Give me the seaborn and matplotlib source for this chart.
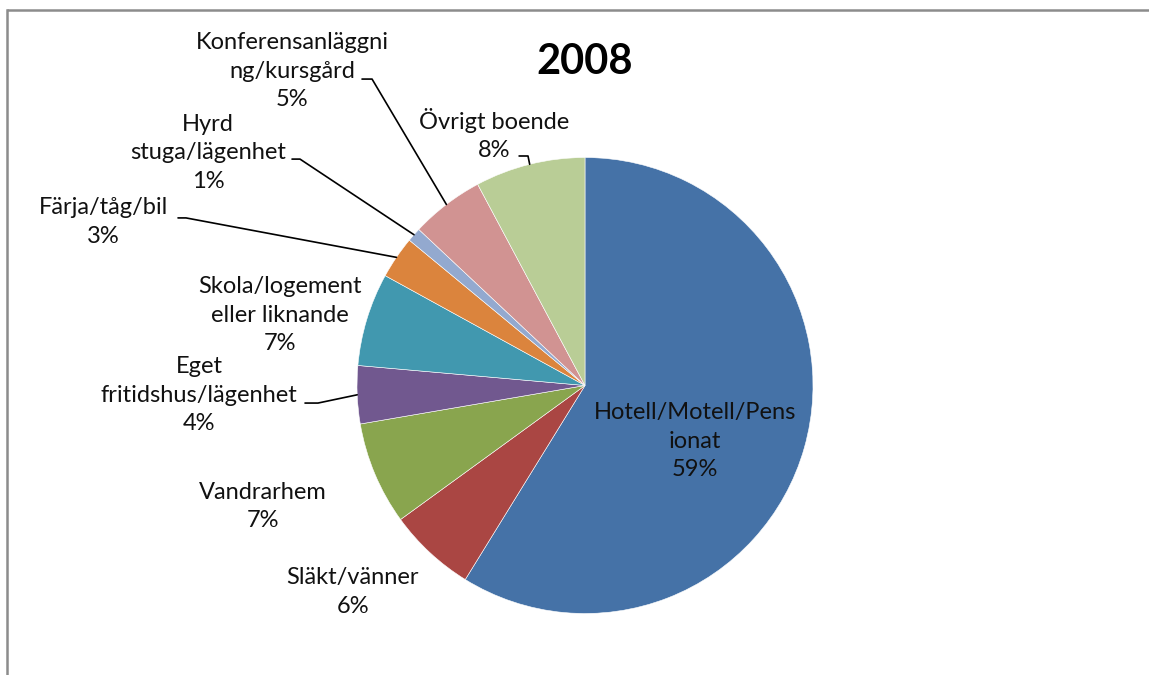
import numpy as np
import matplotlib
matplotlib.use("Agg")
import matplotlib.pyplot as plt
from matplotlib.lines import Line2D
import seaborn as sns

# Data (andel i procent, 2008)
kategorier = ["Hotell/Motell/Pens\nionat", "Släkt/vänner", "Vandrarhem",
              "Eget\nfritidshus/lägenhet", "Skola/logement\neller liknande",
              "Färja/tåg/bil", "Hyrd\nstuga/lägenhet",
              "Konferensanläggni\nng/kursgård", "Övrigt boende"]
andel = [58.8, 6.2, 7.3, 4.1, 6.6, 3.0, 1.0, 5.2, 7.8]
farger = ["#4572A7", "#AA4643", "#89A54E", "#71588F", "#4198AF",
          "#DB843D", "#93A9CF", "#D19392", "#B9CD96"]
titel = "2008"

sns.set_theme(style="white")
plt.rcParams['font.family'] = ['Lato', 'DejaVu Sans']

fig = plt.figure(figsize=(11.49, 6.75), dpi=100)
ax = fig.add_axes([0, 0, 1, 1])

wedges, _ = ax.pie(andel, colors=farger, startangle=90, counterclock=False,
                   radius=1, center=(0, 0),
                   wedgeprops=dict(edgecolor="white", linewidth=0.4))

# pie centre at (585, 385.5) px, radius 228 px
ax.set_xlim(-585 / 228, (1149 - 585) / 228)
ax.set_ylim(-(675 - 385.5) / 228, 385.5 / 228)
ax.set_aspect("auto")
ax.axis("off")

# label positions (pie units) and leader elbows
lbl_pos = [(0.482, -0.244), (-1.018, -0.906), (-1.412, -0.529),
           (-1.693, -0.042), (-1.338, 0.309), (-2.114, 0.717),
           (-1.654, 1.020), (-1.283, 1.379), (-0.399, 1.099)]
elbows = {3: [(-1.228, -0.077), (-1.171, -0.077)],
          5: [(-1.785, 0.735), (-1.750, 0.735)],
          6: [(-1.285, 0.993), (-1.250, 0.993)],
          7: [(-0.978, 1.344), (-0.934, 1.344)],
          8: [(-0.289, 1.0066), (-0.250, 1.0066)]}

for i, (w, lab, v) in enumerate(zip(wedges, kategorier, andel)):
    x, y = lbl_pos[i]
    ax.text(x, y, f"{lab}\n{round(v)}%", ha="center", va="center",
            multialignment="center", fontsize=17, color="#111111",
            linespacing=1.42)
    if i in elbows:
        mid = np.deg2rad((w.theta1 + w.theta2) / 2)
        tip = (np.cos(mid), np.sin(mid))
        pts = elbows[i] + [tip]
        ax.plot([p[0] for p in pts], [p[1] for p in pts], color="black", lw=1.2)

fig.text(585 / 1149, 1 - 62 / 675, titel, ha="center", va="center",
         fontsize=30, fontweight="bold", color="black")

# frame (top and left visible)
fig.add_artist(Line2D([7 / 1149, 1.2], [1 - 10 / 675, 1 - 10 / 675],
                      transform=fig.transFigure, color="#8c8c8c", lw=1.8,
                      solid_capstyle="butt"))
fig.add_artist(Line2D([7 / 1149, 7 / 1149], [-0.2, 1 - 10 / 675],
                      transform=fig.transFigure, color="#8c8c8c", lw=1.8,
                      solid_capstyle="projecting"))

fig.savefig("out.png", dpi=100, facecolor="white")
